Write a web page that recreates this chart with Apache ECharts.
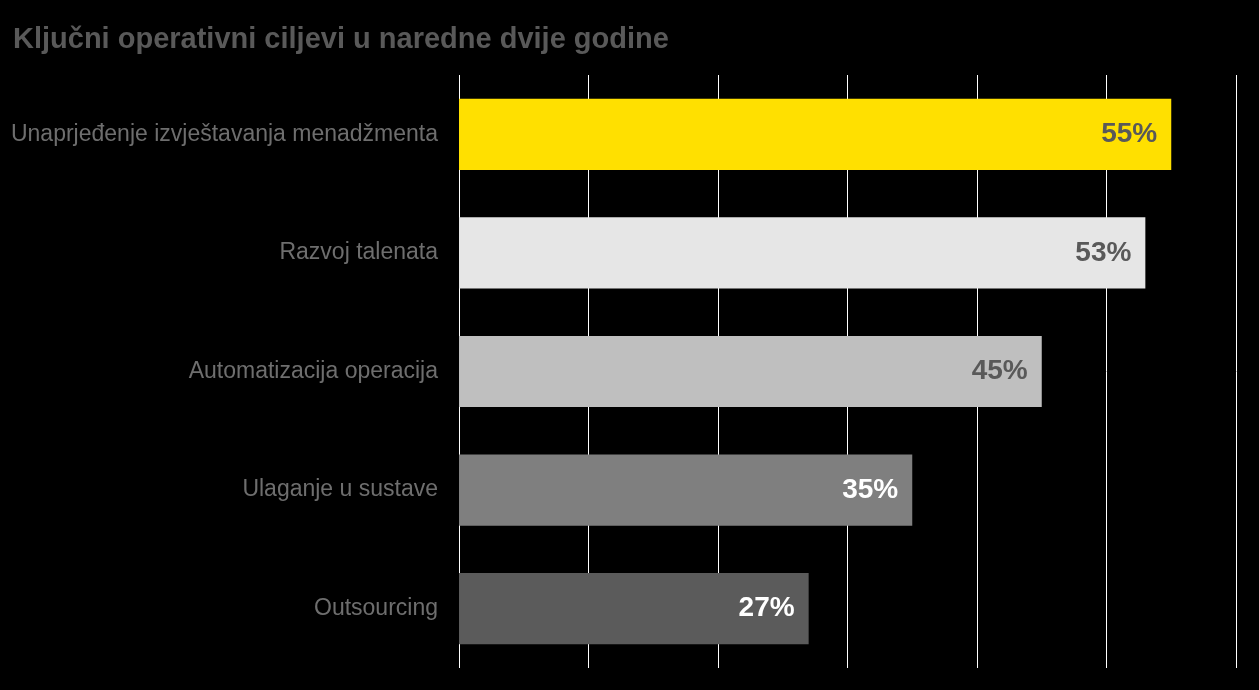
<!DOCTYPE html>
<html>
<head>
    <meta charset="UTF-8">
    <script src="https://cdn.jsdelivr.net/npm/echarts@6/dist/echarts.min.js"></script>
    <style>
        html, body { margin: 0; padding: 0; background: #000; }
    </style>
</head>
<body>
    <div id="main" style="width: 1259px; height: 690px;"></div>
    <script>
        // podaci
        var categories = [
            'Unaprjeđenje izvještavanja menadžmenta',
            'Razvoj talenata',
            'Automatizacija operacija',
            'Ulaganje u sustave',
            'Outsourcing'
        ];
        var values = [55, 53, 45, 35, 27];
        var barColors = ['#FFE000', '#E6E6E6', '#BFBFBF', '#7F7F7F', '#5B5B5B'];
        var labelColors = ['#595959', '#595959', '#595959', '#FFFFFF', '#FFFFFF'];

        var myChart = echarts.init(document.getElementById('main'));

        var seriesData = values.map(function (v, i) {
            return {
                value: v,
                itemStyle: { color: barColors[i] },
                label: { color: labelColors[i] }
            };
        });

        var option = {
            backgroundColor: '#000',
            animation: false,
            title: {
                text: 'Ključni operativni ciljevi u naredne dvije godine',
                left: 8,
                top: 20,
                textStyle: {
                    color: '#595959',
                    fontSize: 29,
                    fontWeight: 'bold',
                    fontFamily: 'Liberation Sans'
                }
            },
            grid: { left: 459, right: 23, top: 75, bottom: 22 },
            xAxis: {
                type: 'value',
                min: 0,
                max: 60,
                interval: 10,
                axisLine: { show: false },
                axisTick: { show: false },
                axisLabel: { show: false },
                splitLine: { show: true, lineStyle: { color: '#FFFFFF', width: 1 } }
            },
            yAxis: {
                type: 'category',
                inverse: true,
                data: categories,
                axisLine: { show: false },
                axisTick: { show: false },
                axisLabel: {
                    color: '#6E6E6E',
                    fontSize: 23,
                    fontFamily: 'Liberation Sans',
                    margin: 21
                }
            },
            series: [{
                type: 'bar',
                data: seriesData,
                barWidth: '60%',
                label: {
                    show: true,
                    position: 'insideRight',
                    distance: 14,
                    formatter: '{c}%',
                    fontSize: 28,
                    fontWeight: 'bold',
                    fontFamily: 'Liberation Sans'
                }
            }]
        };
        myChart.setOption(option);
    </script>
</body>
</html>
